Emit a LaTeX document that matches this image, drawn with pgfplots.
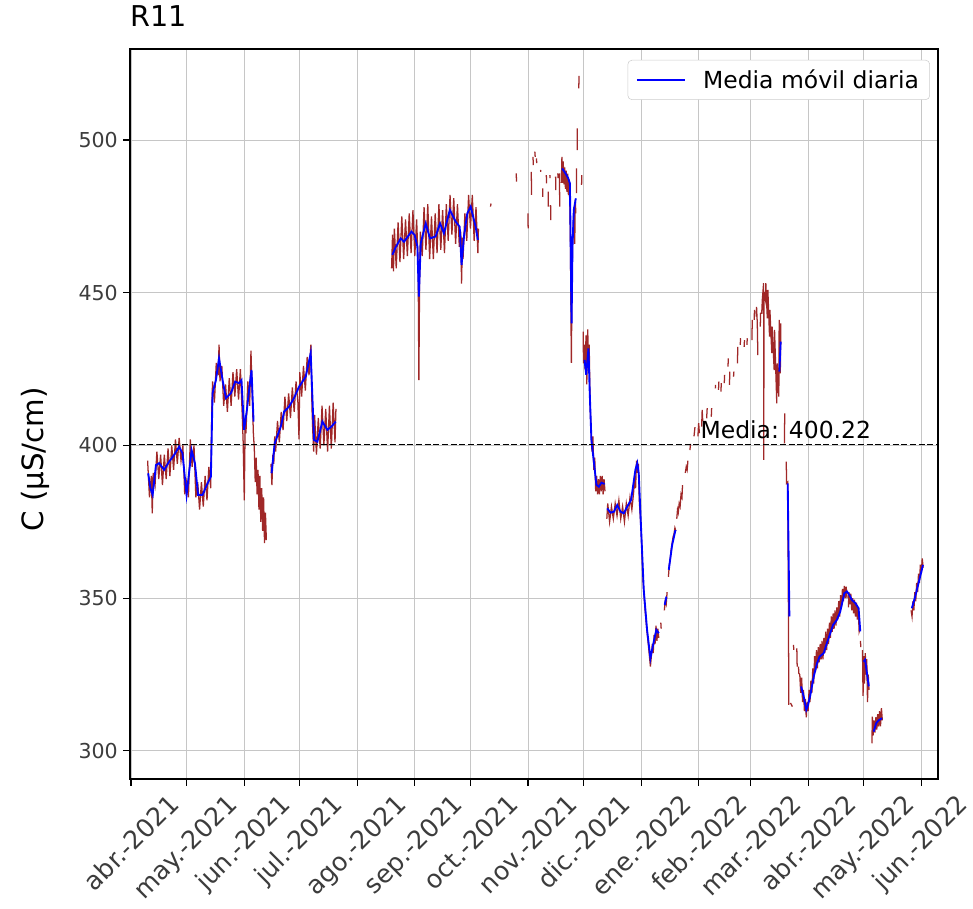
\documentclass[border=0pt]{standalone}
\usepackage{pgfplots}
\pgfplotsset{compat=1.18}
\usepackage{fontspec}
\setmainfont{DejaVu Sans}
\definecolor{raw}{RGB}{160,40,40}
\definecolor{ticktxt}{RGB}{60,60,60}
\newcommand{\rl}[1]{\rotatebox{45}{#1}}
\begin{document}
\begin{tikzpicture}
\begin{axis}[
    width=606pt, height=547.5pt, scale only axis,
    xmin=-0.5, xmax=435, ymin=290.8, ymax=529.8,
    xtick={0,30,61,91,122,153,183,214,244,275,306,334,365,395,426},
    xticklabels={\rl{abr.-2021},\rl{may.-2021},\rl{jun.-2021},\rl{jul.-2021},\rl{ago.-2021},\rl{sep.-2021},\rl{oct.-2021},\rl{nov.-2021},\rl{dic.-2021},\rl{ene.-2022},\rl{feb.-2022},\rl{mar.-2022},\rl{abr.-2022},\rl{may.-2022},\rl{jun.-2022}},
    ytick={300,350,400,450,500},
    /pgf/number format/assume math mode=true,
    tick label style={font=\fontsize{15.4}{18}\selectfont, text=ticktxt},
    x tick label style={anchor=north, inner sep=0pt, yshift=-5pt, font=\fontsize{19}{22}\selectfont},
    y tick label style={inner sep=0pt, xshift=-4pt},
    tick align=outside, major tick length=5pt,
    tick style={line width=0.9pt, black},
    xtick pos=bottom, ytick pos=left,
    axis line style={line width=1pt},
    grid=major, grid style={gray!45, line width=0.6pt},
    title={R11},
    title style={at={(0,1)}, anchor=south west, inner sep=0pt, yshift=10.5pt, font=\fontsize{21.5}{24}\selectfont},
    ylabel={C (µS/cm)},
    every axis y label/.style={at={(axis description cs:-0.1176,0.438)}, rotate=90, anchor=center, font=\fontsize{22}{26}\selectfont},
    unbounded coords=jump, filter discard warning=false,
    legend style={at={(0.99,0.985)}, anchor=north east, draw=gray!40, rounded corners=3pt, fill=white,
        font=\fontsize{17.6}{20}\selectfont, inner xsep=6pt, inner ysep=5pt, column sep=11pt},
    legend cell align=left,
    legend image code/.code={\draw[#1] (0pt,0pt) -- (36pt,0pt);},
]
% raw readings
\addplot[raw, line width=0.95pt, forget plot] coordinates {
(9,395)(10,383)(11,390)(11.5,377.8)(12,391)(13,387)(14,398)(15,389)(16,397)(17,387)(18,397)(19,389)(20,399)(21,390)(22,400)(23,392)(24,402)(25,394)(26,402.5)(27,395)(28,400)(29,384)(30,388)(31,383)(32,402)(33,393)(34,400)(35,383)(36,388)(37,379)(38,388)(39,380)(40,390)(41,382)(42,393)(43,386)(43.6,412)(44,421)(45,414)(46,427)(47,423)(47.5,433)(48,421)(49,426)(50,413)(51,420)(52,411)(53,422)(54,413)(55,424)(56,416)(57,425)(58,415)(59,425)(60,410)(60.5,401)(61.1,382)(61.6,409)(62,404)(63,421)(64,413)(64.7,431)(65.3,418)(66,404)(66.5,399)(67,388)(67.5,396)(68,384)(68.5,392)(69,379)(69.5,390)(70,375)(70.5,386)(71,372)(71.5,383)(72,368)(72.5,378)(73,369)(73.2,nan)
(75.5,394)(76,387)(76.5,397)(77,394)(77.5,403)(78,398)(79,408)(80,401)(81,411)(82,405)(83,416)(84,408)(85,417)(86,409)(87,419)(88,411)(89,421)(90,414)(90.6,402)(91,424)(92,416)(93,426)(94,418)(95,429)(96,423)(97,433)(97.6,412)(98,405)(98.5,398)(99,410)(100,397)(101,409)(102,399)(103,413)(104,400)(105,412)(106,398)(107,413)(108,399)(109,414)(110,401)(110.5,412)(110.7,nan)
(140.5,458)(141,469)(141.5,457)(142,471)(143,458)(144,473)(145,460)(146,475)(147,461)(148,474)(149,462)(150,476)(151,463)(152,477)(153,462)(154,474)(154.8,460)(155.2,421.4)(155.6,455)(156,470)(157,462)(158,478)(159,464)(160,479)(161,461)(162,475)(163,461)(164,476)(165,463)(166,479)(167,464)(168,477)(169,463)(170,479)(171,467)(172,482)(173,469)(174,481)(175,466)(176,479)(177,465)(177.8,470)(178.2,453)(178.7,468)(179,461)(180,476)(181,467)(182,482)(183,471)(184,482)(185,467)(186,478)(187,463)(187.3,471)(187.5,nan)
(193.8,478.2)(194.1,479.2)(194.3,nan)
(207.7,489.1)(207.8,486.4)(208,nan)
(214,476.0)(214.1,471.1)(214.3,nan)
(215.8,489.6)(215.9,482.0)(216.1,nan)
(216.7,494.5)(216.9,491.8)(217.1,nan)
(217.7,496.2)(217.9,494.5)(218.1,nan)
(218.6,494.0)(218.7,492.4)(218.9,nan)
(220.8,490.2)(220.9,489.6)(221.1,nan)
(221.9,484.2)(222,481.4)(222.2,nan)
(223.9,488.5)(224,485.8)(224.2,nan)
(224.9,483.1)(225,478.2)(225.2,nan)
(225.8,488.5)(225.9,487.5)(226,nan)
(226.2,478.7)(226.3,473.8)(226.5,nan)
(228.9,488.0)(229,483.6)(229.2,nan)
(230.1,489.1)(230.2,487.5)(230.4,nan)
(231,489.1)(231.1,478.2)(231.3,nan)
(232,486)(232.3,494.5)(232.6,486)(233,493)(233.4,485.5)(233.8,491)(234.2,484)(234.6,490)(235,483)(235.4,489)(235.8,482)(236.2,487)(236.6,478)(236.9,465)(237.2,440)(237.4,427)(237.6,444)(238,465)(238.4,472)(238.8,478)(239.2,466)(239.5,480.4)(239.8,476)(240,nan)
(240.1,482.6)(240.2,490.7)(240.3,nan)
(240.5,496.7)(240.6,503.8)(240.8,nan)
(241.4,516.9)(241.5,521)(241.7,nan)
(242.9,485.3)(243,488.5)(243.2,nan)
(243.8,437.3)(243.9,426.9)(244.4,433)(244.8,425)(245.3,436)(245.7,420)(246.2,438)(246.6,428)(247,433)(247.5,413)(248,405)(248.5,398)(249,403)(249.5,392)(250,396)(250.5,385)(251,390)(251.5,384)(252,389)(252.5,384)(253,390)(253.5,385)(254,390)(254.5,384)(255,389)(255.5,385)(256,nan)
(256.5,376)(257,381)(258,375)(259,380)(260,376)(261,381)(262,377)(263,382)(264,376)(265,380)(266,375)(267,381)(268,377)(269,383)(270,379)(271,385)(271.5,390)(272,386)(272.5,395)(273,391)(273.5,394)(274,382)(275,372)(276,356)(277,347)(278,340)(279,334)(280,327.6)(280.5,331)(281,335)(281.5,332)(282,338)(282.5,335)(283,341)(283.5,336)(284,340)(284.5,337)(284.8,nan)
(285.6,342)(285.8,340)(286,nan)
(287.5,346)(288,349)(288.5,348)(289,352)(289.3,nan)
(289.7,357)(290.2,361)(290.7,363)(291.2,366)(291.7,368)(292.2,370)(292.7,371)(293.2,373)(293.7,372)(294,nan)
(294.2,376)(294.6,379)(295,378)(295.5,381)(296,380)(296.5,384)(297,383)(297.3,387)(297.6,nan)
(298.8,391)(299.3,393)(299.8,392)(300.2,395)(300.5,nan)
(301.3,398.5)(301.6,400.5)(301.8,nan)
(303.5,403)(304,406)(304.3,nan)
(305.6,403)(306,407.3)(306.4,404)(306.7,nan)
(307.6,406.2)(307.9,411.6)(308.2,408)(308.5,nan)
(310.3,408.9)(310.6,412.2)(310.8,nan)
(312.8,409.4)(313,412.2)(313.2,nan)
(315,418.7)(315.1,419.8)(315.3,nan)
(316.7,418.2)(316.9,420.9)(317.1,nan)
(318,417.6)(318.2,420.4)(318.4,nan)
(319.8,420.4)(320,423.1)(320.2,nan)
(321.8,425.8)(322,428.5)(322.2,nan)
(322.6,419.8)(322.8,424.2)(323,nan)
(324.8,422.5)(325,424.2)(325.2,nan)
(326.9,426.9)(327.1,432.3)(327.3,nan)
(328.4,432.9)(328.6,435.1)(328.8,nan)
(330.5,432.3)(330.7,434.5)(330.9,nan)
(332,432.9)(332.2,435.1)(332.4,nan)
(334.7,434.5)(334.9,441.1)(335.1,nan)
(335.9,441.1)(336.1,444.4)(336.3,nan)
(337,442.2)(337.2,445.4)(337.6,440)(337.9,429.6)(338.1,nan)
(339.2,438.9)(339.4,443.3)(340,443.3)(340.3,447.6)(341,453.1)(341.1,395.3)(341.2,450)(342,447.6)(342.2,453.1)(343,441.6)(343.3,450.9)(344.2,435.6)(344.4,444.4)(345.4,430.2)(345.6,438.9)(346.7,424.7)(346.9,437.8)(348.1,413.8)(348.3,426.9)(349.2,416)(349.4,441.1)(350,423.6)(350.3,440)(350.5,nan)
(352.2,400.7)(352.4,410.5)(352.6,nan)
(353.2,394.7)(353.4,387.6)(354,388)(354.4,344)(354.6,315.1)(354.8,nan)
(355.5,315.7)(356.5,314.5)(356.7,nan)
(357.1,334.7)(357.3,333.1)(357.5,nan)
(358.9,333.6)(359.1,327.6)(359.3,nan)
(359.8,327.6)(360,325.4)(360.5,325)(361,319)(361.5,324)(362,316)(362.5,320)(363,313)(363.5,317)(364,311)(364.5,316)(365,313)(365.5,320)(366,316)(366.5,323)(367,319)(367.5,327)(368,322)(368.5,331)(369,326)(369.5,333)(370,327)(370.5,334)(371,329)(371.5,335)(372,330)(372.5,336)(373,330)(373.5,337)(374,332)(374.5,339)(375,333)(375.5,340)(376,335)(376.5,342)(377,337)(377.5,344)(378,339)(378.5,345)(379,340)(379.5,346)(380,341)(380.5,347)(381,343)(381.5,349)(382,344)(382.5,351)(383,347)(383.5,353)(384,349)(384.5,354)(385,350)(385.5,353.8)(386,350)(386.3,nan)
(386.7,347)(387,352)(387.5,348)(388,351.5)(388.5,346)(389,350)(389.5,345)(390,349.5)(390.5,344)(391,348.5)(391.5,343)(392,347)(392.5,339)(393,340)(393.1,nan)
(393.2,336)(393.4,334)(393.6,nan)
(394.3,333)(394.6,318)(395,331)(395.4,322)(395.8,332)(396.2,325)(396.6,330)(397,316)(397.4,325)(397.8,320)(398,nan)
(399.4,302.5)(399.6,311.2)(400,305)(400.5,310)(401,306)(401.5,311)(402,307)(402.5,312)(403,308)(403.5,313)(404,308)(404.5,314)(405,310)(405.2,nan)
(420.5,346)(421,344)(421.5,349)(422,346)(422.5,352)(423,349)(423.5,355)(424,352)(424.5,358)(425,355)(425.5,361)(426,358)(426.5,363)(427,360)
};
% daily moving average
\addplot[blue, line width=1.4pt] coordinates {
(9.3,390.9)(10.5,386)(11.7,383.8)(13.5,393.6)(15.2,394.2)(17.9,392.0)(20.6,394.7)(23.3,396.9)(26.0,399.6)(27.8,397.4)(30.0,383.8)(32.7,398.5)(34.5,394.2)(36.2,383.8)(38.6,383.8)(41.3,387.6)(43.1,389.8)(44.0,417.1)(45.8,421.4)(47.5,428.5)(49.4,421.4)(51.2,415.5)(53.9,417.1)(56.2,420.9)(58.3,420.4)(59.6,421.4)(61.0,405.1)(62.5,411.6)(63.7,418.2)(65.0,424.7)(66.1,407.8)(66.2,nan)
(75.8,390.9)(77.5,400.7)(80.8,406.2)(82.6,411.1)(85.2,412.7)(87.9,415.5)(90.6,419.2)(94.2,422.5)(96.9,430.2)(98.7,401.8)(100.5,401.2)(103.2,407.8)(105.9,405.1)(108.1,406.2)(110.4,407.8)(110.5,nan)
(140.9,462.4)(142.7,464.9)(145.4,467.8)(147.2,466.7)(149.0,468.2)(151.2,470.0)(152.9,468.9)(154.4,465.1)(155.2,448.7)(156.2,466.2)(158.9,472.7)(161.2,467.8)(164.2,468.4)(166.6,472.7)(168.7,469.5)(171.9,477.1)(175.0,473.3)(177.2,471.6)(178.2,459.1)(179.5,468.4)(181.3,476.0)(183.1,478.2)(185.8,471.6)(187.0,467.3)(187.1,nan)
(232.4,490.7)(234.2,489.1)(235.7,487.5)(236.6,485.8)(236.9,471.6)(237.3,449.8)(237.5,440.0)(238,465.1)(238.7,477.1)(239.8,480.9)(240,nan)
(244.5,428.0)(245.4,423.1)(246.6,431.8)(247.3,417.1)(248.2,401.8)(250.9,387.1)(252.2,386.5)(253.6,387.8)(255.3,387.4)(256,nan)
(256.7,379.4)(258.5,378.0)(260.3,378.3)(262.1,380.5)(263.9,378.3)(265.7,377.8)(267.5,380.0)(269.6,382.2)(271.9,392.0)(272.9,394.2)(273.7,390.9)(275,372.3)(276.4,352.7)(278.2,339.6)(280,330.3)(281.8,335.8)(283.2,339.6)(284.5,338.5)(285,nan)
(287.7,347.8)(288.6,350.5)(289,nan)
(289.9,359.3)(291.7,367.4)(293.5,372.3)(294,nan)
(349.5,424.2)(350.2,434.0)(350.4,nan)
(354,387.6)(354.9,344)(355,nan)
(361.2,321.1)(362.6,317.8)(364,313.4)(364.7,314.5)(366.2,318.3)(368,324.3)(369.8,328.7)(371.2,330.9)(373.4,332)(375.1,335.3)(376.9,338.5)(378.4,341.2)(380.5,342.9)(382.3,345.6)(384.5,351.6)(385.9,352.2)(387.2,351.1)(388.6,349.4)(390.4,348.4)(392.2,346.7)(393.1,339.1)(393.5,nan)
(394.9,329.2)(395.7,329.8)(397.7,321.1)(398,nan)
(400.3,306.3)(401.7,309.1)(403,310)(404.8,310.7)(405,nan)
(420.9,346.7)(422.7,350.5)(424.5,354.9)(426.9,360.9)
};
\addlegendentry{Media móvil diaria}
% mean line
\addplot[black, line width=1pt, dash pattern=on 4.5pt off 2pt, forget plot] coordinates {(-0.5,400.22)(435,400.22)};
\node[anchor=base west, inner sep=0pt, font=\fontsize{17.6}{20}\selectfont] at (axis cs:306.9,402.4) {Media: 400.22};
\end{axis}
\pgfresetboundingbox
\path[use as bounding box] ([xshift=-97.5pt,yshift=-97.5pt]current axis.south west) rectangle ([xshift=26.25pt,yshift=36.75pt]current axis.north east);
\end{tikzpicture}
\end{document}
